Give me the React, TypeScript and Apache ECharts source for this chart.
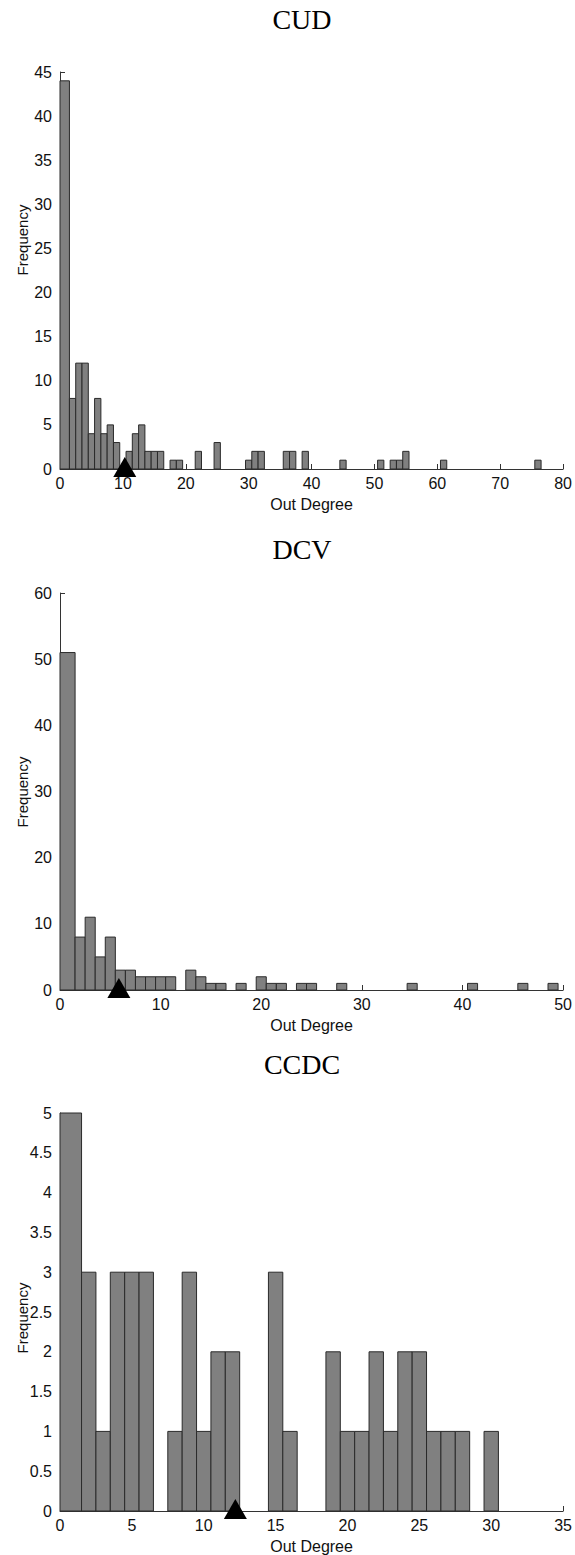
import React, { useEffect, useRef } from "react";
import * as echarts from "echarts";

// ---- Data (out-degree histograms) ----
// bin centre (out degree) and frequency; the first bin also holds degree 0
const cudDegree = [1, 2, 3, 4, 5, 6, 7, 8, 9, 11, 12, 13, 14, 15, 16, 18, 19, 22, 25, 30, 31, 32, 36, 37, 39, 45, 51, 53, 54, 55, 61, 76];
const cudCount = [44, 8, 12, 12, 4, 8, 4, 5, 3, 2, 4, 5, 2, 2, 2, 1, 1, 2, 3, 1, 2, 2, 2, 2, 2, 1, 1, 1, 1, 2, 1, 1];
const cudMean = 10.3;

const dcvDegree = [1, 2, 3, 4, 5, 6, 7, 8, 9, 10, 11, 13, 14, 15, 16, 18, 20, 21, 22, 24, 25, 28, 35, 41, 46, 49];
const dcvCount = [51, 8, 11, 5, 8, 3, 3, 2, 2, 2, 2, 3, 2, 1, 1, 1, 2, 1, 1, 1, 1, 1, 1, 1, 1, 1];
const dcvMean = 5.85;

const ccdcDegree = [1, 2, 3, 4, 5, 6, 8, 9, 10, 11, 12, 15, 16, 19, 20, 21, 22, 23, 24, 25, 26, 27, 28, 30];
const ccdcCount = [5, 3, 1, 3, 3, 3, 1, 3, 1, 2, 2, 3, 1, 2, 1, 1, 2, 1, 2, 2, 1, 1, 1, 1];
const ccdcMean = 12.2;

const titles = ["CUD", "DCV", "CCDC"];
const xMax = [80, 50, 35];
const xInterval = [10, 10, 5];
const yMax = [45, 60, 5];
const yInterval = [5, 10, 0.5];
const xAxisName = "Out Degree";
const yAxisName = "Frequency";
const FIRST_BIN_LOW = -0.5; // first bin spans degrees 0 and 1

function binRows(deg: number[], cnt: number[]) {
  return deg.map((d, i) => [i === 0 ? FIRST_BIN_LOW : d - 0.5, d + 0.5, cnt[i]]);
}

export default function App() {
  const ref = useRef<HTMLDivElement>(null);
  useEffect(() => {
    if (!ref.current) return;
    const chart = echarts.init(ref.current, undefined, { renderer: "svg" });
    const gridTops = [72, 593, 1113];
    const gridH = [397, 397, 400];
    const titleY = [19, 549, 1064];
    const freqLabelY = [240, 792, 1318];
    const datasets = [
      binRows(cudDegree, cudCount),
      binRows(dcvDegree, dcvCount),
      binRows(ccdcDegree, ccdcCount),
    ];
    const means = [cudMean, dcvMean, ccdcMean];
    const axisColor = "#333";
    const labelFont = "Liberation Sans, Arial, sans-serif";

    const grid = gridTops.map((t, i) => ({ left: 60, width: 505, top: t, height: gridH[i] }));
    const xAxis = [0, 1, 2].map((i) => ({
      type: "value",
      gridIndex: i,
      min: 0,
      max: xMax[i],
      interval: xInterval[i],
      name: xAxisName,
      nameLocation: "middle",
      nameGap: 27,
      nameTextStyle: { fontFamily: labelFont, fontSize: 16, color: "#111" },
      axisLine: { show: true, lineStyle: { color: axisColor, width: 1 } },
      axisTick: { show: true, inside: true, length: 5, lineStyle: { color: axisColor } },
      axisLabel: { fontFamily: labelFont, fontSize: 16, color: "#111", margin: 6 },
      splitLine: { show: false },
    }));
    const yAxis = [0, 1, 2].map((i) => ({
      type: "value",
      gridIndex: i,
      min: 0,
      max: yMax[i],
      interval: yInterval[i],
      axisLine: { show: true, lineStyle: { color: axisColor, width: 1 } },
      axisTick: { show: true, inside: true, length: 5, lineStyle: { color: axisColor } },
      axisLabel: { fontFamily: labelFont, fontSize: 16, color: "#111", margin: 8 },
      splitLine: { show: false },
    }));

    const barSeries = datasets.map((rows, i) => ({
      type: "custom",
      xAxisIndex: i,
      yAxisIndex: i,
      data: rows,
      encode: { x: [0, 1], y: 2 },
      renderItem: (params: any, api: any) => {
        const lo = Math.max(api.value(0), 0);
        const hi = api.value(1);
        const h = api.value(2);
        const p0 = api.coord([lo, h]);
        const p1 = api.coord([hi, 0]);
        return {
          type: "rect",
          shape: { x: p0[0], y: p0[1], width: p1[0] - p0[0], height: p1[1] - p0[1] },
          style: { fill: "#808080", stroke: "#2a2a2a", lineWidth: 1 },
        };
      },
      z: 2,
    }));
    const markerSeries = means.map((m, i) => ({
      type: "scatter",
      xAxisIndex: i,
      yAxisIndex: i,
      data: [[m, 0]],
      symbol: "triangle",
      symbolSize: [23, 20],
      symbolOffset: [0, -2],
      itemStyle: { color: "#000", opacity: 1 },
      clip: false,
      z: 5,
    }));

    const titleTexts = titles.map((t, i) => ({
      type: "text",
      x: 302,
      y: titleY[i],
      style: {
        text: t,
        fontFamily: "Liberation Serif, Times New Roman, serif",
        fontSize: 28,
        fill: "#000",
        textAlign: "center",
        textVerticalAlign: "middle",
      },
    }));
    const freqTexts = freqLabelY.map((y) => ({
      type: "text",
      x: 22,
      y,
      rotation: Math.PI / 2,
      style: {
        text: yAxisName,
        fontFamily: labelFont,
        fontSize: 15,
        fill: "#111",
        textAlign: "center",
        textVerticalAlign: "middle",
      },
    }));

    chart.setOption({
      animation: false,
      backgroundColor: "#fff",
      grid,
      xAxis,
      yAxis,
      series: [...barSeries, ...markerSeries],
      graphic: [...titleTexts, ...freqTexts],
    });
    return () => chart.dispose();
  }, []);
  return (
    <div
      ref={ref}
      style={{ position: "absolute", left: 0, top: 0, width: 575, height: 1555, background: "#fff" }}
    />
  );
}
